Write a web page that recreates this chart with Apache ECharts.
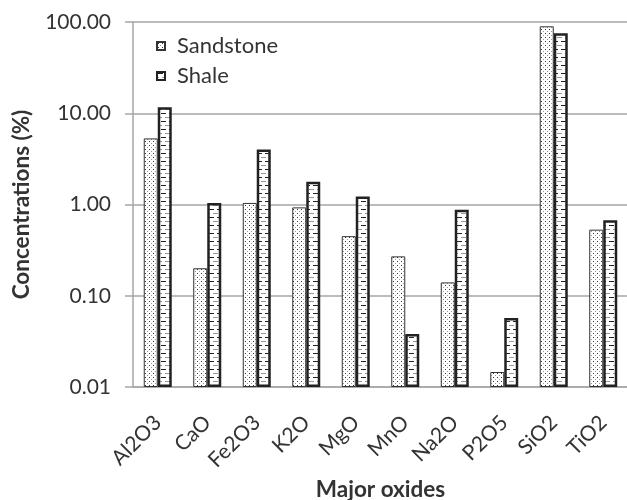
<!DOCTYPE html>
<html>
<head>
<meta charset="utf-8">
<script src="https://cdn.jsdelivr.net/npm/echarts@6/dist/echarts.min.js"></script>
<style>
html,body{margin:0;padding:0;background:#fff;}
#chart{width:627px;height:500px;}
</style>
</head>
<body>
<div id="chart"></div>
<script>
const categories = ['Al2O3','CaO','Fe2O3','K2O','MgO','MnO','Na2O','P2O5','SiO2','TiO2'];
const sandstone = [5.3, 0.20, 1.04, 0.93, 0.45, 0.27, 0.14, 0.0146, 89.7, 0.53];
const shale = [11.6, 1.04, 4.0, 1.77, 1.22, 0.038, 0.875, 0.057, 75.2, 0.67];
const yTickLabels = ['0.01','0.10','1.00','10.00','100.00'];
const seriesNames = ['Sandstone','Shale'];

const FONT = 'Lato';
const LOG_MIN = -2; // log10 of axis minimum 0.01
function toAxis(v){ return Math.log10(v) - LOG_MIN; }

function makeDotPattern(){
  const c = document.createElement('canvas');
  c.width = 4; c.height = 4;
  const g = c.getContext('2d');
  g.fillStyle = '#fff'; g.fillRect(0,0,4,4);
  g.fillStyle = '#333'; g.fillRect(1,1,1,1);
  g.fillStyle = '#999'; g.fillRect(3,3,1,1);
  return c;
}
function makeDashPattern(){
  const c = document.createElement('canvas');
  c.width = 8; c.height = 8;
  const g = c.getContext('2d');
  g.fillStyle = '#fff'; g.fillRect(0,0,8,8);
  g.fillStyle = '#222'; g.fillRect(1,1,5,1);
  g.fillStyle = '#999'; g.fillRect(5,5,5,1); g.fillRect(0,5,2,1);
  return c;
}

const chart = echarts.init(document.getElementById('chart'), null, {renderer:'canvas'});
chart.setOption({
  animation: false,
  backgroundColor: '#fff',
  textStyle: {fontFamily: FONT},
  grid: {left: 133, top: 22, width: 495, height: 365, outerBoundsMode: 'none', containLabel: false},
  legend: {
    orient: 'vertical', left: 156, top: 35, padding: 0, itemGap: 8,
    itemWidth: 8, itemHeight: 8, icon: 'rect',
    textStyle: {fontFamily: FONT, fontSize: 22, color: '#333', padding: [0, 0, 0, 7]},
    data: seriesNames
  },
  xAxis: {
    type: 'category', data: categories,
    name: 'Major oxides', nameLocation: 'middle', nameGap: 90,
    nameTextStyle: {fontFamily: FONT, fontSize: 22.5, fontWeight: 'bold', color: '#333'},
    axisLine: {lineStyle: {color: '#a6a6a6', width: 1.5}},
    axisTick: {show: false},
    axisLabel: {rotate: 45, margin: 32, interval: 0, fontFamily: FONT, fontSize: 21, color: '#333'}
  },
  yAxis: {
    type: 'value', min: 0, max: 4, interval: 1,
    name: 'Concentrations (%)', nameLocation: 'middle', nameGap: 100,
    nameTextStyle: {fontFamily: FONT, fontSize: 22.5, fontWeight: 'bold', color: '#333'},
    axisLine: {show: true, lineStyle: {color: '#a6a6a6', width: 1.5}},
    axisTick: {show: true, length: 8, lineStyle: {color: '#a6a6a6', width: 1.5}},
    splitLine: {lineStyle: {color: '#a6a6a6', width: 1.5}},
    axisLabel: {margin: 22, fontFamily: FONT, fontSize: 21, color: '#333',
      formatter: v => yTickLabels[Math.round(v)]}
  },
  series: [
    {
      name: seriesNames[0], type: 'bar', barWidth: 14, barGap: '0%',
      data: sandstone.map(toAxis),
      itemStyle: {color: {image: makeDotPattern(), repeat: 'repeat'}, borderColor: '#333', borderWidth: 1}
    },
    {
      name: seriesNames[1], type: 'bar', barWidth: 14, barGap: '0%',
      data: shale.map(toAxis),
      itemStyle: {color: {image: makeDashPattern(), repeat: 'repeat'}, borderColor: '#222', borderWidth: 2.5}
    }
  ]
});
</script>
</body>
</html>
